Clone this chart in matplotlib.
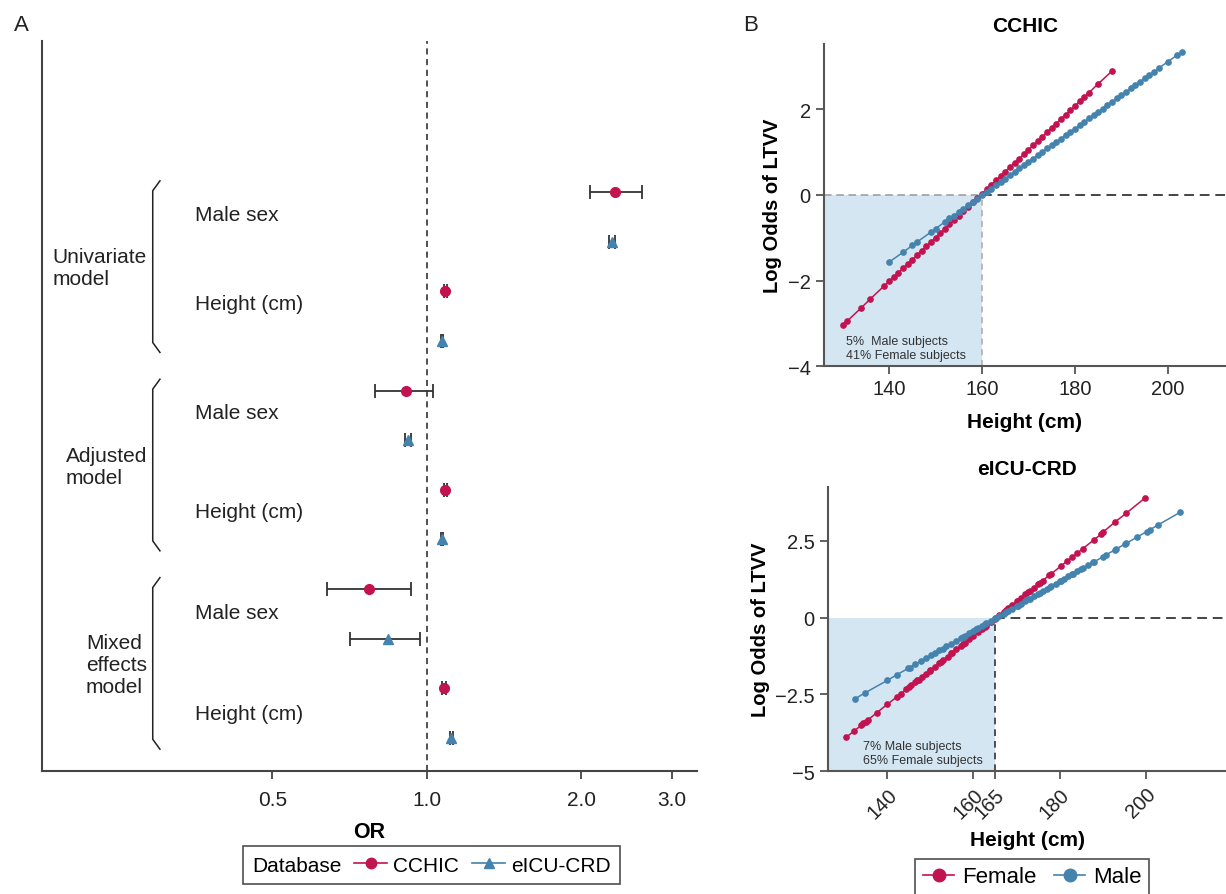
import numpy as np
import matplotlib
matplotlib.use('Agg')
import matplotlib.pyplot as plt
from matplotlib.lines import Line2D
from matplotlib.ticker import FuncFormatter
import matplotlib.transforms as mtransforms

plt.rcParams['font.family'] = ['Liberation Sans', 'DejaVu Sans']

RED = '#C21350'
BLUE = '#4383AE'
DARK = '#444444'

# ---- panel A data (odds ratios) ----
models = ['Univariate\nmodel', 'Adjusted\nmodel', 'Mixed\neffects\nmodel']
terms = ['Male sex', 'Height (cm)']
cchic_or = [2.33, 1.086, 0.909, 1.086, 0.770, 1.079]
cchic_lo = [2.08, 1.078, 0.792, 1.078, 0.640, 1.071]
cchic_hi = [2.62, 1.094, 1.029, 1.094, 0.930, 1.088]
eicu_or = [2.29, 1.070, 0.919, 1.070, 0.839, 1.116]
eicu_lo = [2.26, 1.066, 0.907, 1.066, 0.710, 1.108]
eicu_hi = [2.33, 1.074, 0.932, 1.074, 0.970, 1.124]
or_ticks = [0.5, 1.0, 2.0, 3.0]

# ---- panel B data: CCHIC ----
cchic_f_h = [130, 131, 134, 136, 139, 140, 141, 142, 143, 144, 145, 146, 147, 148, 149,
             150, 151, 152, 153, 154, 155, 156, 157, 158, 159, 160, 161, 162, 163, 164,
             165, 166, 167, 168, 169, 170, 171, 172, 173, 174, 175, 176, 177, 178, 179,
             180, 181, 182, 183, 185, 188]
cchic_f_lo = [-3.05, -2.95, -2.64, -2.43, -2.12, -2.02, -1.92, -1.82, -1.71, -1.61, -1.51,
              -1.41, -1.30, -1.20, -1.10, -1.00, -0.89, -0.79, -0.69, -0.58, -0.48, -0.38,
              -0.28, -0.17, -0.07, 0.03, 0.13, 0.24, 0.34, 0.44, 0.54, 0.65, 0.75, 0.85,
              0.95, 1.06, 1.16, 1.26, 1.36, 1.47, 1.57, 1.67, 1.78, 1.88, 1.98, 2.08, 2.19,
              2.29, 2.39, 2.60, 2.90]
cchic_m_h = [140, 143, 145, 146, 149, 150, 152, 153, 154, 155, 156, 157, 158, 159, 160,
             161, 162, 163, 164, 165, 166, 167, 168, 169, 170, 171, 172, 173, 174, 175,
             176, 177, 178, 179, 180, 181, 182, 183, 184, 185, 186, 187, 188, 189, 190,
             191, 192, 193, 194, 195, 196, 197, 198, 200, 202, 203]
cchic_m_lo = [-1.57, -1.34, -1.18, -1.10, -0.87, -0.79, -0.63, -0.55, -0.48, -0.40, -0.32,
              -0.24, -0.16, -0.09, -0.01, 0.07, 0.15, 0.23, 0.30, 0.38, 0.46, 0.54, 0.62,
              0.70, 0.77, 0.85, 0.93, 1.01, 1.09, 1.16, 1.24, 1.32, 1.40, 1.48, 1.55, 1.63,
              1.71, 1.79, 1.87, 1.94, 2.02, 2.10, 2.18, 2.26, 2.34, 2.41, 2.49, 2.57, 2.65,
              2.73, 2.80, 2.88, 2.96, 3.12, 3.27, 3.35]

# ---- panel B data: eICU-CRD ----
eicu_f_h = [130.5, 132.3, 134.0, 134.5, 135.0, 135.6, 137.6, 140.0, 142.3, 143.1, 144.4,
            145.0, 145.6, 146.5, 147.0, 147.3, 148.0, 149.0, 149.9, 150.0, 151.0, 152.0,
            152.4, 153.0, 154.0, 154.9, 155.0, 156.0, 157.0, 157.5, 158.0, 159.0, 160.0,
            161.0, 162.0, 162.6, 163.0, 164.0, 165.0, 165.1, 166.0, 167.0, 167.6, 168.0,
            169.0, 170.0, 170.2, 171.0, 172.0, 172.7, 173.0, 174.0, 175.0, 175.3, 176.0,
            177.5, 177.9, 180.2, 181.7, 182.8, 184.0, 185.3, 187.9, 189.6, 190.0, 192.7,
            195.4, 199.7]
eicu_f_lo = [-3.90, -3.70, -3.51, -3.45, -3.39, -3.33, -3.10, -2.83, -2.58, -2.49, -2.34,
             -2.27, -2.21, -2.11, -2.05, -2.02, -1.94, -1.83, -1.73, -1.71, -1.60, -1.49,
             -1.45, -1.38, -1.27, -1.17, -1.15, -1.04, -0.93, -0.87, -0.82, -0.71, -0.59,
             -0.48, -0.37, -0.30, -0.26, -0.15, -0.04, -0.02, 0.08, 0.19, 0.26, 0.30,
             0.41, 0.53, 0.55, 0.64, 0.75, 0.83, 0.86, 0.97, 1.09, 1.12, 1.20,
             1.37, 1.41, 1.67, 1.84, 1.96, 2.09, 2.24, 2.53, 2.72, 2.78, 3.10,
             3.40, 3.89]
eicu_m_h = [132.5, 134.8, 140.0, 142.3, 144.8, 145.2, 146.5, 147.8, 149.1, 150.1, 151.0,
            152.1, 152.9, 153.7, 154.8, 156.0, 157.0, 157.5, 158.0, 159.0, 160.0, 160.5,
            161.0, 162.0, 162.6, 163.0, 164.0, 165.0, 165.1, 166.0, 167.0, 167.6, 168.0,
            169.0, 170.0, 170.2, 171.0, 172.0, 172.7, 173.0, 174.0, 175.0, 175.3, 176.0,
            177.0, 177.8, 178.0, 179.0, 180.0, 180.3, 181.0, 182.0, 182.9, 183.0, 184.0,
            185.0, 185.4, 186.6, 187.7, 188.0, 190.0, 190.6, 192.7, 193.1, 195.1, 195.4,
            197.8, 200.1, 200.8, 202.8, 207.9]
eicu_m_lo = [-2.65, -2.46, -2.05, -1.86, -1.66, -1.63, -1.52, -1.42, -1.31, -1.23, -1.16,
             -1.07, -1.01, -0.94, -0.85, -0.76, -0.68, -0.64, -0.59, -0.51, -0.43, -0.39,
             -0.35, -0.27, -0.22, -0.19, -0.11, -0.03, -0.02, 0.05, 0.13, 0.18, 0.21,
             0.29, 0.37, 0.39, 0.45, 0.53, 0.59, 0.61, 0.69, 0.78, 0.80, 0.86,
             0.94, 1.00, 1.02, 1.10, 1.18, 1.20, 1.26, 1.34, 1.41, 1.42, 1.50,
             1.58, 1.61, 1.71, 1.80, 1.82, 1.98, 2.03, 2.20, 2.23, 2.40, 2.42,
             2.61, 2.80, 2.85, 3.02, 3.43]

cchic_cut = 160
eicu_cut = 165
cchic_note = '5%  Male subjects\n41% Female subjects'
eicu_note = '7% Male subjects\n65% Female subjects'


def style_axis(ax, color=DARK):
    for s in ['top', 'right']:
        ax.spines[s].set_visible(False)
    for s in ['left', 'bottom']:
        ax.spines[s].set_color(color)
        ax.spines[s].set_linewidth(1.5)
    ax.tick_params(direction='out', length=6, width=1.3, color=color,
                   labelsize=14.5, labelcolor='#222222')


def minus_fmt(v, pos):
    return ('%g' % v).replace('-', '\u2212')


fig = plt.figure(figsize=(12.26, 8.95), dpi=100)

# ================= panel A =================
axA = fig.add_axes([0.0343, 0.1374, 0.5342, 0.8157])
style_axis(axA)
axA.set_xscale('log')
axA.set_xlim(0.178, 3.36)
axA.set_ylim(11.67, -3.05)

n = len(cchic_or)
y_c = [2 * i for i in range(n)]
y_e = [2 * i + 1 for i in range(n)]

axA.axvline(1.0, color='#222222', lw=1.1, ls=(0, (4, 3)), zorder=1)
ebkw = dict(ecolor='#333333', elinewidth=1.3, capsize=5, capthick=1.3, ls='none', zorder=3)
axA.errorbar(cchic_or, y_c,
             xerr=[np.subtract(cchic_or, cchic_lo), np.subtract(cchic_hi, cchic_or)],
             fmt='o', color=RED, ms=7, **ebkw)
axA.errorbar(eicu_or, y_e,
             xerr=[np.subtract(eicu_or, eicu_lo), np.subtract(eicu_hi, eicu_or)],
             fmt='^', color=BLUE, ms=7, **ebkw)

axA.set_xticks(or_ticks)
axA.set_xticklabels(['%.1f' % t for t in or_ticks])
axA.xaxis.set_minor_locator(matplotlib.ticker.NullLocator())
axA.set_yticks([])
axA.tick_params(axis='x', labelsize=15, pad=8)
axA.set_xlabel('OR', fontsize=15.5, fontweight='bold', labelpad=8)

trans = mtransforms.blended_transform_factory(axA.transAxes, axA.transData)
# where each term label sits within its model block (in row units)
term_offsets = [[0.45, 2.24], [0.44, 2.43], [0.47, 2.52]]
for m, name in enumerate(models):
    top = 4 * m - 0.13
    bot = 4 * m + 3.13
    axA.plot([0.180, 0.169, 0.169, 0.180],
             [top - 0.1, top + 0.1, bot - 0.1, bot + 0.1],
             transform=trans, color='#222222', lw=1.1, clip_on=False)
    axA.text(0.160, 4 * m + 1.52, name, transform=trans, ha='right', va='center',
             multialignment='left', fontsize=15, color='#222222', linespacing=1.2)
    for k, term in enumerate(terms):
        axA.text(0.2336, 4 * m + term_offsets[m][k], term, transform=trans,
                 ha='left', va='center', fontsize=15, color='#222222')

hA = [Line2D([], [], color=RED, marker='o', ms=7.5, lw=1.2, mec=RED),
      Line2D([], [], color=BLUE, marker='^', ms=7.5, lw=1.2, mec=BLUE)]
legA = fig.legend(hA, ['CCHIC', 'eICU-CRD'], title='Database', ncol=2,
                  loc='center', bbox_to_anchor=(0.352, 0.0324), fontsize=15,
                  title_fontsize=15, frameon=True, fancybox=False, edgecolor='#222222',
                  handlelength=1.6, handletextpad=0.3, columnspacing=0.6,
                  borderpad=0.45)
legA.get_frame().set_linewidth(1.2)
# put the legend title on the left of the entries
box = legA.get_children()[0]
title_box, handle_box = box.get_children()[0], box.get_children()[1]
box._children = [handle_box]
handle_box._children = [title_box] + handle_box.get_children()


# ================= panel B =================
def curve_panel(rect, title, f_h, f_lo, m_h, m_lo, cut, xlim, ylim, xticks, yticks,
                note, note_xy, light_edges):
    ax = fig.add_axes(rect)
    style_axis(ax, '#555555')
    ax.set_xlim(*xlim)
    ax.set_ylim(*ylim)
    ax.fill_between([xlim[0], cut], ylim[0], 0, color='#D4E6F2', lw=0, zorder=0)
    ax.hlines(0, cut, xlim[1], color='#444444', lw=1.4, ls=(0, (5, 3)), zorder=1)
    if light_edges:
        ax.hlines(0, xlim[0], cut, color='#999999', lw=1.1, ls=(0, (5, 3)), zorder=1)
        ax.vlines(cut, ylim[0], 0, color='#AAAAAA', lw=1.1, ls=(0, (4, 3)), zorder=1)
    else:
        ax.vlines(cut, ylim[0], 0, color='#333333', lw=1.2, ls=(0, (4, 3)), zorder=1)
    ax.plot(f_h, f_lo, '-o', color=RED, lw=1.1, ms=3.8, zorder=3)
    ax.plot(m_h, m_lo, '-o', color=BLUE, lw=1.1, ms=3.8, zorder=3)
    ax.text(note_xy[0], note_xy[1], note, fontsize=9, color='#333333',
            va='bottom', ha='left', linespacing=1.25)
    ax.set_xticks(xticks)
    ax.set_yticks(yticks)
    ax.yaxis.set_major_formatter(FuncFormatter(minus_fmt))
    ax.set_title(title, fontsize=15, fontweight='bold', pad=9.5)
    ax.set_xlabel('Height (cm)', fontsize=15, fontweight='bold')
    ax.set_ylabel('Log Odds of LTVV', fontsize=14.5, fontweight='bold')
    return ax


axB1 = curve_panel([0.6721, 0.5899, 0.3279, 0.3598], 'CCHIC',
                   cchic_f_h, cchic_f_lo, cchic_m_h, cchic_m_lo, cchic_cut,
                   (126.0, 212.5), (-4.0, 3.53), [140, 160, 180, 200], [-4, -2, 0, 2],
                   cchic_note, (130.8, -3.88), True)
axB1.xaxis.labelpad = 10

axB2 = curve_panel([0.6754, 0.1374, 0.3246, 0.3173], 'eICU-CRD',
                   eicu_f_h, eicu_f_lo, eicu_m_h, eicu_m_lo, eicu_cut,
                   (126.3, 218.5), (-5.0, 4.25), [140, 160, 165, 180, 200],
                   [-5, -2.5, 0, 2.5], eicu_note, (134.4, -4.85), False)
for lab in axB2.get_xticklabels():
    lab.set_rotation(45)
    lab.set_ha('right')
    lab.set_rotation_mode('anchor')
axB2.xaxis.labelpad = 6

hB = [Line2D([], [], color=RED, marker='o', ms=9, lw=1.2),
      Line2D([], [], color=BLUE, marker='o', ms=9, lw=1.2)]
legB = fig.legend(hB, ['Female', 'Male'], ncol=2, loc='upper center',
                  bbox_to_anchor=(0.842, 0.052), fontsize=16, frameon=True,
                  fancybox=False, edgecolor='#222222', handlelength=1.4,
                  handletextpad=0.35, columnspacing=0.8, borderpad=0.35)
legB.get_frame().set_linewidth(1.2)

fig.text(0.011, 0.972, 'A', fontsize=16, va='center', ha='left', color='#222222')
fig.text(0.606, 0.972, 'B', fontsize=16, va='center', ha='left', color='#222222')

fig.savefig('out.png', dpi=100)
